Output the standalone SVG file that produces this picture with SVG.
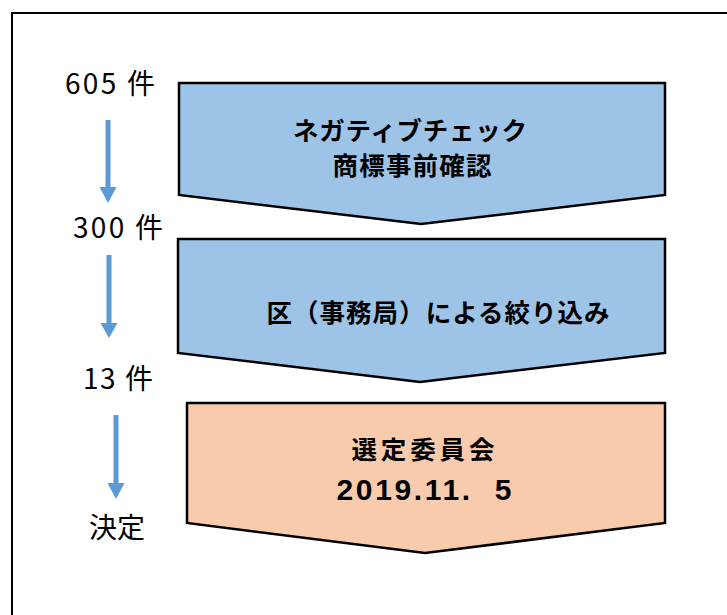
<svg xmlns="http://www.w3.org/2000/svg" width="727" height="615" viewBox="0 0 727 615">
<defs>
<style>
.frame{fill:none;stroke:#000;stroke-width:2}
.step{stroke:#000;stroke-width:2.5;stroke-linejoin:miter}
.blue{fill:#9DC3E6}
.peach{fill:#F8CBAD}
.t{font-family:"Noto Sans CJK JP","Liberation Sans",sans-serif;font-weight:bold;font-size:25.5px;fill:#000;text-anchor:middle}
.num{font-family:"Liberation Sans","Noto Sans CJK JP",sans-serif;font-weight:bold;font-size:30px;fill:#000;text-anchor:middle;white-space:pre}
.lbl{font-family:"Noto Sans CJK JP","Liberation Sans",sans-serif;font-size:28px;fill:#000}
.arr{stroke:#5B9BD5;stroke-width:5;fill:none}
.head{fill:#5B9BD5}
</style>
</defs>
<rect class="frame" x="12" y="13" width="740" height="640"/>
<g id="step1">
<polygon class="step blue" points="179,83 665,83 665,195 421,224 179,195"/>
<text class="t" x="410" y="140" textLength="234" lengthAdjust="spacing">ネガティブチェック</text>
<text class="t" x="412" y="175" textLength="159" lengthAdjust="spacing">商標事前確認</text>
</g>
<g id="step2">
<polygon class="step blue" points="178,239 665,239 665,353 420,382 178,353"/>
<text class="t" x="438" y="322" textLength="343" lengthAdjust="spacing">区（事務局）による絞り込み</text>
</g>
<g id="step3">
<polygon class="step peach" points="187,403 665,403 665,523 425,553 187,523"/>
<text class="t" x="423" y="459" textLength="143" lengthAdjust="spacing">選定委員会</text>
<text class="num" x="424" y="500" textLength="175" lengthAdjust="spacing" xml:space="preserve">2019.11.  5</text>
</g>
<g id="label605"><text class="lbl" x="65" y="94" textLength="90" lengthAdjust="spacing">605 件</text></g>
<g id="label300"><text class="lbl" x="73" y="238" textLength="90" lengthAdjust="spacing">300 件</text></g>
<g id="label13"><text class="lbl" x="83" y="389" textLength="70" lengthAdjust="spacing">13 件</text></g>
<g id="labelFinal"><text class="lbl" x="89" y="538" textLength="56" lengthAdjust="spacing">決定</text></g>
<g id="connectors">
<line class="arr" x1="108" y1="120" x2="108" y2="189"/>
<polygon class="head" points="99.5,187 116.5,187 108,203"/>
<line class="arr" x1="109" y1="255" x2="109" y2="325"/>
<polygon class="head" points="100.5,323 117.5,323 109,338"/>
<line class="arr" x1="116" y1="415" x2="116" y2="485"/>
<polygon class="head" points="107.5,483 124.5,483 116,499"/>
</g>
</svg>
